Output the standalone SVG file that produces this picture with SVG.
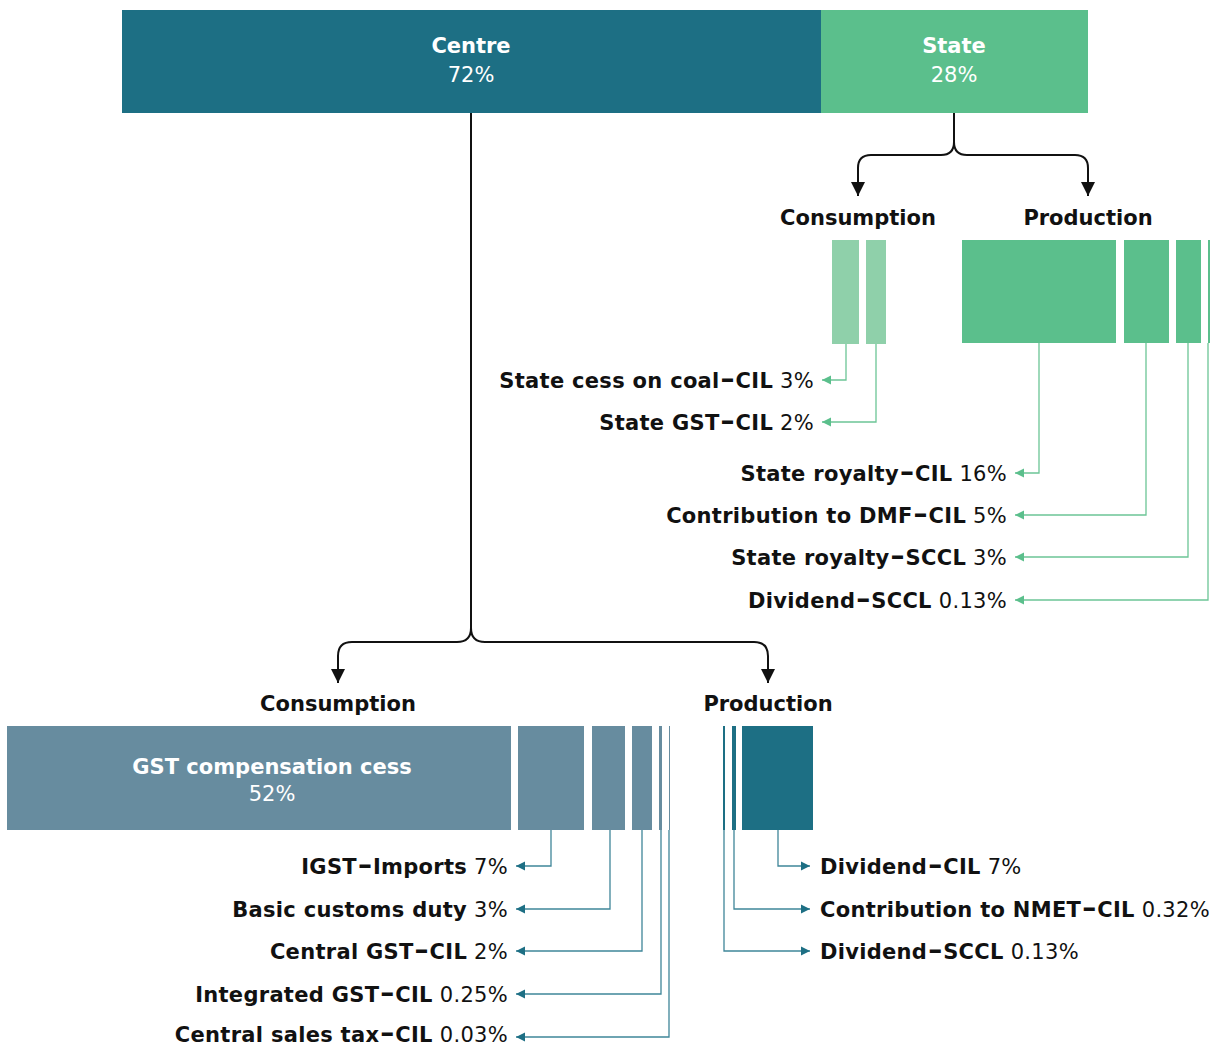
<svg xmlns="http://www.w3.org/2000/svg" width="1219" height="1048" viewBox="0 0 1219 1048">
<defs>
<style>
text{font-family:"DejaVu Sans","Liberation Sans",sans-serif;font-size:21px;fill:#111}
.b{font-weight:700}
.r{font-weight:400}
.w{fill:#fff}
.head{font-weight:700;text-anchor:middle}
.lbl{letter-spacing:0.3px}
.end{text-anchor:end}
.d{font-size:28px;letter-spacing:0}
.main{fill:none;stroke:#111;stroke-width:2}
.gl{fill:none;stroke:#6cc596;stroke-width:1.3}
.tl{fill:none;stroke:#3f8699;stroke-width:1.3}
</style>
<marker id="ab" viewBox="0 0 10 10" refX="10" refY="5" markerWidth="7" markerHeight="7" orient="auto" markerUnits="strokeWidth"><path d="M0,0L10,5L0,10z" fill="#111"/></marker>
<marker id="ag" viewBox="0 0 10 10" refX="10" refY="5" markerWidth="7" markerHeight="7" orient="auto" markerUnits="strokeWidth"><path d="M0,0L10,5L0,10z" fill="#5bbf8c"/></marker>
<marker id="at" viewBox="0 0 10 10" refX="10" refY="5" markerWidth="7" markerHeight="7" orient="auto" markerUnits="strokeWidth"><path d="M0,0L10,5L0,10z" fill="#1d6f84"/></marker>
</defs>

<g id="centre">
<rect x="122" y="10" width="699" height="103" fill="#1d6f84"/>
<text x="471" y="53" class="head w">Centre</text>
<text x="471" y="82" class="r w" text-anchor="middle">72%</text>
</g>
<g id="state">
<rect x="821" y="10" width="267" height="103" fill="#5bbf8c"/>
<text x="954" y="53" class="head w">State</text>
<text x="954" y="82" class="r w" text-anchor="middle">28%</text>
</g>

<g id="state-consumption">
<text x="858" y="225" class="head">Consumption</text>
<rect x="832" y="240" width="27" height="104" fill="#8fd0aa"/>
<rect x="866" y="240" width="20" height="104" fill="#8fd0aa"/>
</g>
<g id="state-production">
<text x="1088" y="225" class="head">Production</text>
<rect x="962" y="240" width="154" height="103" fill="#5bbf8c"/>
<rect x="1124" y="240" width="45" height="103" fill="#5bbf8c"/>
<rect x="1176" y="240" width="25" height="103" fill="#5bbf8c"/>
<rect x="1208" y="240" width="2" height="103" fill="#5bbf8c"/>
</g>

<g id="state-labels">
<text x="814" y="388" class="lbl end"><tspan class="b">State cess on coal<tspan class="d" dx="1">–</tspan><tspan dx="1">CIL</tspan></tspan> <tspan class="r">3%</tspan></text>
<text x="814" y="430" class="lbl end"><tspan class="b">State GST<tspan class="d" dx="1">–</tspan><tspan dx="1">CIL</tspan></tspan> <tspan class="r">2%</tspan></text>
<text x="1007" y="481" class="lbl end"><tspan class="b">State royalty<tspan class="d" dx="1">–</tspan><tspan dx="1">CIL</tspan></tspan> <tspan class="r">16%</tspan></text>
<text x="1007" y="523" class="lbl end"><tspan class="b">Contribution to DMF<tspan class="d" dx="1">–</tspan><tspan dx="1">CIL</tspan></tspan> <tspan class="r">5%</tspan></text>
<text x="1007" y="565" class="lbl end"><tspan class="b">State royalty<tspan class="d" dx="1">–</tspan><tspan dx="1">SCCL</tspan></tspan> <tspan class="r">3%</tspan></text>
<text x="1007" y="608" class="lbl end"><tspan class="b">Dividend<tspan class="d" dx="1">–</tspan><tspan dx="1">SCCL</tspan></tspan> <tspan class="r">0.13%</tspan></text>
</g>

<g id="centre-consumption">
<text x="338" y="711" class="head">Consumption</text>
<rect x="7" y="726" width="504" height="104" fill="#678c9f"/>
<text x="272" y="774" class="head w">GST compensation cess</text>
<text x="272" y="801" class="r w" text-anchor="middle">52%</text>
<rect x="518" y="726" width="66" height="104" fill="#678c9f"/>
<rect x="592" y="726" width="33" height="104" fill="#678c9f"/>
<rect x="632" y="726" width="20" height="104" fill="#678c9f"/>
<rect x="659" y="726" width="3" height="104" fill="#678c9f"/>
<rect x="669" y="726" width="1" height="104" fill="#678c9f"/>
</g>
<g id="centre-production">
<text x="768" y="711" class="head">Production</text>
<rect x="723" y="726" width="2" height="104" fill="#1d6f84"/>
<rect x="732" y="726" width="4" height="104" fill="#1d6f84"/>
<rect x="742" y="726" width="71" height="104" fill="#1d6f84"/>
</g>

<g id="centre-labels">
<text x="508" y="874" class="lbl end"><tspan class="b">IGST<tspan class="d" dx="1">–</tspan><tspan dx="1">Imports</tspan></tspan> <tspan class="r">7%</tspan></text>
<text x="508" y="917" class="lbl end"><tspan class="b">Basic customs duty</tspan> <tspan class="r">3%</tspan></text>
<text x="508" y="959" class="lbl end"><tspan class="b">Central GST<tspan class="d" dx="1">–</tspan><tspan dx="1">CIL</tspan></tspan> <tspan class="r">2%</tspan></text>
<text x="508" y="1002" class="lbl end"><tspan class="b">Integrated GST<tspan class="d" dx="1">–</tspan><tspan dx="1">CIL</tspan></tspan> <tspan class="r">0.25%</tspan></text>
<text x="508" y="1042" class="lbl end"><tspan class="b">Central sales tax<tspan class="d" dx="1">–</tspan><tspan dx="1">CIL</tspan></tspan> <tspan class="r">0.03%</tspan></text>
<text x="820" y="874" class="lbl"><tspan class="b">Dividend<tspan class="d" dx="1">–</tspan><tspan dx="1">CIL</tspan></tspan> <tspan class="r">7%</tspan></text>
<text x="820" y="917" class="lbl"><tspan class="b">Contribution to NMET<tspan class="d" dx="1">–</tspan><tspan dx="1">CIL</tspan></tspan> <tspan class="r">0.32%</tspan></text>
<text x="820" y="959" class="lbl"><tspan class="b">Dividend<tspan class="d" dx="1">–</tspan><tspan dx="1">SCCL</tspan></tspan> <tspan class="r">0.13%</tspan></text>
</g>

<g id="connectors">
<path class="main" d="M954,113V142Q954,155 941,155H871Q858,155 858,168V196" marker-end="url(#ab)"/>
<path class="main" d="M954,142Q954,155 967,155H1075Q1088,155 1088,168V196" marker-end="url(#ab)"/>
<path class="main" d="M471,113V628Q471,642 457,642H352Q338,642 338,656V683" marker-end="url(#ab)"/>
<path class="main" d="M471,628Q471,642 485,642H754Q768,642 768,656V683" marker-end="url(#ab)"/>

<path class="gl" d="M846,344V380H822" marker-end="url(#ag)"/>
<path class="gl" d="M876,344V422H822" marker-end="url(#ag)"/>
<path class="gl" d="M1039,343V473H1015" marker-end="url(#ag)"/>
<path class="gl" d="M1146,343V515H1015" marker-end="url(#ag)"/>
<path class="gl" d="M1188,343V557H1015" marker-end="url(#ag)"/>
<path class="gl" d="M1208,343V600H1015" marker-end="url(#ag)"/>

<path class="tl" d="M551,830V866H516" marker-end="url(#at)"/>
<path class="tl" d="M610,830V909H516" marker-end="url(#at)"/>
<path class="tl" d="M642,830V951H516" marker-end="url(#at)"/>
<path class="tl" d="M661,830V994H516" marker-end="url(#at)"/>
<path class="tl" d="M669,830V1037H516" marker-end="url(#at)"/>
<path class="tl" d="M778,830V866H810" marker-end="url(#at)"/>
<path class="tl" d="M734,830V909H810" marker-end="url(#at)"/>
<path class="tl" d="M724,830V951H810" marker-end="url(#at)"/>
</g>
</svg>
